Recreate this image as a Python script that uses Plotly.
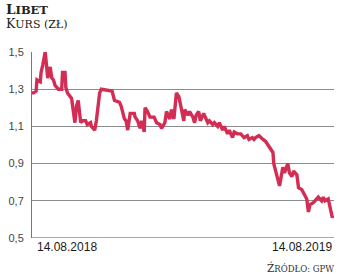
import plotly.graph_objects as go

# Day offsets from 14.08.2018 and closing prices (zł)
days = [0, 2, 5, 6, 10, 11, 13, 16, 18, 19, 22, 24, 26, 28, 30, 32, 36, 37, 40, 41,
        43, 47, 48, 52, 54, 56, 59, 61, 65, 67, 71, 72, 76, 78, 82, 84, 97, 100, 106, 108,
        112, 114, 116, 119, 124, 125, 128, 131, 133, 136, 137, 140, 143, 148, 151, 155, 157, 161, 163, 167,
        169, 172, 175, 178, 180, 184, 185, 189, 191, 195, 197, 199, 202, 204, 208, 210, 213, 215, 219, 221,
        225, 227, 231, 233, 237, 239, 243, 245, 249, 253, 257, 261, 263, 267, 269, 271, 275, 280, 283, 286,
        289, 292, 293, 297, 298, 300, 304, 306, 310, 312, 315, 317, 321, 323, 327, 329, 333, 335, 337, 341,
        345, 347, 351, 353, 355, 359, 361, 364, 365]
price = [1.28, 1.28, 1.29, 1.35, 1.34, 1.39, 1.43, 1.50, 1.41, 1.36, 1.42, 1.36, 1.35, 1.32, 1.31, 1.30, 1.30, 1.39, 1.39, 1.31,
         1.28, 1.26, 1.25, 1.12, 1.21, 1.24, 1.12, 1.13, 1.13, 1.11, 1.12, 1.10, 1.08, 1.13, 1.28, 1.30, 1.29, 1.24, 1.23, 1.21,
         1.14, 1.13, 1.08, 1.17, 1.17, 1.15, 1.13, 1.09, 1.13, 1.07, 1.20, 1.18, 1.15, 1.15, 1.12, 1.11, 1.09, 1.12, 1.18, 1.14,
         1.19, 1.14, 1.28, 1.26, 1.21, 1.13, 1.19, 1.16, 1.18, 1.15, 1.12, 1.16, 1.18, 1.13, 1.17, 1.15, 1.12, 1.13, 1.11, 1.12,
         1.10, 1.12, 1.08, 1.10, 1.06, 1.08, 1.04, 1.07, 1.06, 1.06, 1.04, 1.05, 1.03, 1.04, 1.03, 1.04, 1.05, 1.03, 1.02, 1.00,
         0.98, 0.96, 0.90, 0.83, 0.80, 0.78, 0.88, 0.85, 0.90, 0.85, 0.83, 0.86, 0.84, 0.77, 0.76, 0.74, 0.71, 0.64, 0.68, 0.69,
         0.71, 0.72, 0.70, 0.72, 0.70, 0.71, 0.67, 0.61, 0.62]

y_ticks = [0.5, 0.7, 0.9, 1.1, 1.3, 1.5]
date_labels = ["14.08.2018", "14.08.2019"]
date_pos = [0, 365]

title = "L<span style='font-size:11.5px'>IBET</span>"
subtitle = "K<span style='font-size:11px'>URS (ZŁ)</span>"
source = "Ź<span style='font-size:8.5px'>RÓDŁO: GPW</span>"

fig = go.Figure()
fig.add_trace(go.Scatter(x=days, y=price, mode="lines",
                         line=dict(color="#d42d54", width=3.4), hoverinfo="skip"))

W, H = 343, 274
L, R, T, B = 29, 9, 52, 36
pw = W - L - R
ph = H - T - B


def py(pix):
    """pixel row -> paper y"""
    return (H - B - pix) / ph


fig.update_layout(
    width=W, height=H,
    margin=dict(l=L, r=R, t=T, b=B, pad=0),
    paper_bgcolor="white", plot_bgcolor="white",
    showlegend=False,
    separators=", ",
    xaxis=dict(range=[0, 366], showgrid=False, zeroline=False, showticklabels=False,
               showline=False, fixedrange=True),
    yaxis=dict(range=[0.5, 1.5], tickvals=y_ticks, tickformat=".1f",
               showgrid=True, gridcolor="#8c8c8c", gridwidth=1, zeroline=False,
               showline=True, linecolor="#777777", linewidth=1,
               ticks="outside", ticklen=5, tickcolor="rgba(0,0,0,0)",
               tickfont=dict(family="Liberation Sans, Arial", size=11, color="#444444")),
)

# darker base line at 0.5
fig.add_shape(type="line", xref="paper", yref="y", x0=0, x1=1, y0=0.5, y1=0.5,
              line=dict(color="#555555", width=1.2), layer="above")

fig.add_annotation(text=title, xref="paper", yref="paper", x=-27 / pw, y=py(0),
                   xanchor="left", yanchor="top", showarrow=False, borderpad=0,
                   font=dict(family="DejaVu Serif", size=13.5, color="#222222", weight="bold"))
fig.add_annotation(text=subtitle, xref="paper", yref="paper", x=-27 / pw, y=py(15),
                   xanchor="left", yanchor="top", showarrow=False, borderpad=0,
                   font=dict(family="DejaVu Serif", size=12.5, color="#222222"))

fig.add_annotation(text=date_labels[0], xref="x", yref="paper", x=date_pos[0] + 4, y=py(247),
                   xanchor="left", yanchor="middle", showarrow=False,
                   font=dict(family="Liberation Sans, Arial", size=12, color="#1a1a1a"))
fig.add_annotation(text=date_labels[1], xref="x", yref="paper", x=date_pos[1] + 1, y=py(247),
                   xanchor="right", yanchor="middle", showarrow=False,
                   font=dict(family="Liberation Sans, Arial", size=12, color="#1a1a1a"))

fig.add_annotation(text=source, xref="paper", yref="paper", x=1 + 2 / pw, y=py(267),
                   xanchor="right", yanchor="middle", showarrow=False,
                   font=dict(family="DejaVu Serif", size=10.5, color="#333333"))

fig.write_html("out.html")
